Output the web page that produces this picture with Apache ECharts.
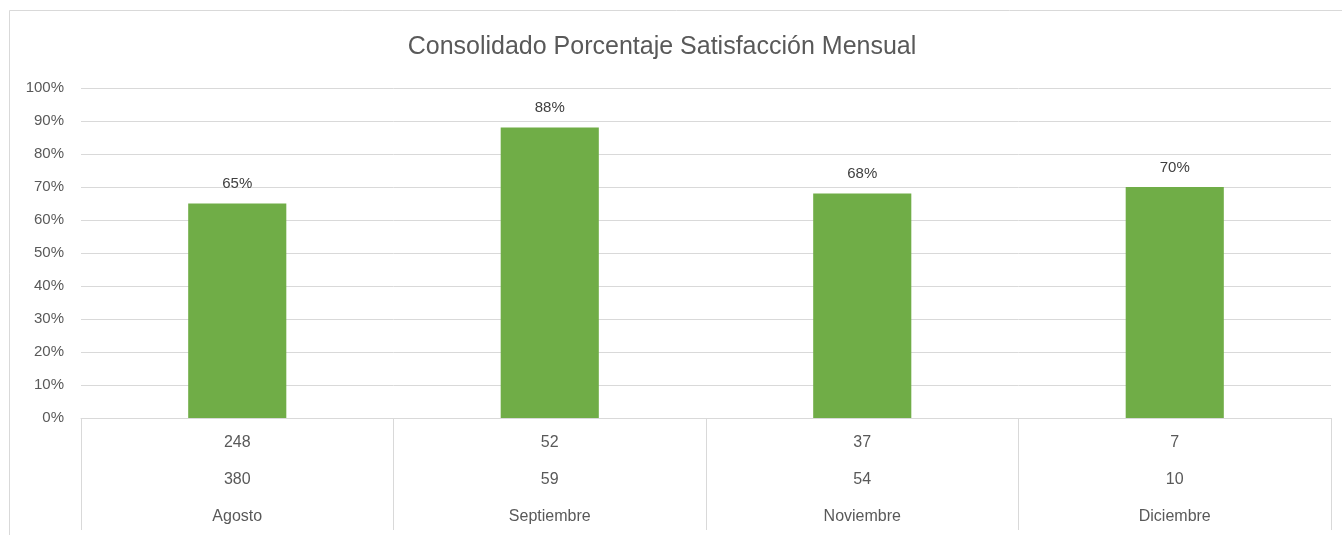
<!DOCTYPE html>
<html>
<head>
<meta charset="utf-8">
<script src="https://cdn.jsdelivr.net/npm/echarts@6/dist/echarts.min.js"></script>
<style>
  html, body { margin: 0; padding: 0; background: #fff; }
  #chart { width: 1342px; height: 535px; }
</style>
</head>
<body>
<div id="chart"></div>
<script>
// datos del grafico
var meses = ['Agosto', 'Septiembre', 'Noviembre', 'Diciembre'];
var satisfechos = [248, 52, 37, 7];
var encuestados = [380, 59, 54, 10];
var porcentaje = [65, 88, 68, 70];
var yTicks = [0, 10, 20, 30, 40, 50, 60, 70, 80, 90, 100];

var fuente = 'Liberation Sans';
var gris = '#595959';
var linea = '#d9d9d9';

var chart = echarts.init(document.getElementById('chart'));

var option = {
  backgroundColor: '#fff',
  animation: false,
  textStyle: { fontFamily: fuente },
  title: {
    text: 'Consolidado Porcentaje Satisfacción Mensual',
    left: 657,
    top: 30,
    textAlign: 'center',
    textStyle: { fontFamily: fuente, fontSize: 25, fontWeight: 'normal', color: gris }
  },
  // borde exterior del area del grafico
  graphic: [{
    type: 'rect',
    shape: { x: 9.5, y: 10.5, width: 1400, height: 600 },
    style: { fill: 'none', stroke: linea, lineWidth: 1 },
    silent: true
  }],
  grid: { left: 81, right: 11, top: 88, bottom: 117 },
  xAxis: {
    type: 'category',
    data: meses,
    axisLine: { show: true, lineStyle: { color: linea, width: 1 } },
    axisTick: { show: true, length: 112, lineStyle: { color: linea, width: 1 } },
    axisLabel: {
      margin: 6,
      formatter: function (value, idx) {
        return '{a|' + satisfechos[idx] + '}\n{a|' + encuestados[idx] + '}\n{a|' + value + '}';
      },
      rich: {
        a: { fontFamily: fuente, fontSize: 16, color: gris, lineHeight: 37, align: 'center' }
      }
    }
  },
  yAxis: {
    type: 'value',
    min: yTicks[0],
    max: yTicks[yTicks.length - 1],
    interval: 10,
    axisLine: { show: false },
    axisTick: { show: false },
    axisLabel: {
      margin: 17,
      fontFamily: fuente,
      fontSize: 15,
      color: gris,
      formatter: '{value}%'
    },
    splitLine: { lineStyle: { color: linea, width: 1 } }
  },
  series: [{
    type: 'bar',
    data: porcentaje,
    barWidth: '31.4%',
    itemStyle: { color: '#70AD47' },
    label: {
      show: true,
      position: 'top',
      distance: 12,
      fontFamily: fuente,
      fontSize: 15,
      color: '#404040',
      formatter: '{c}%'
    }
  }]
};

chart.setOption(option);
</script>
</body>
</html>
